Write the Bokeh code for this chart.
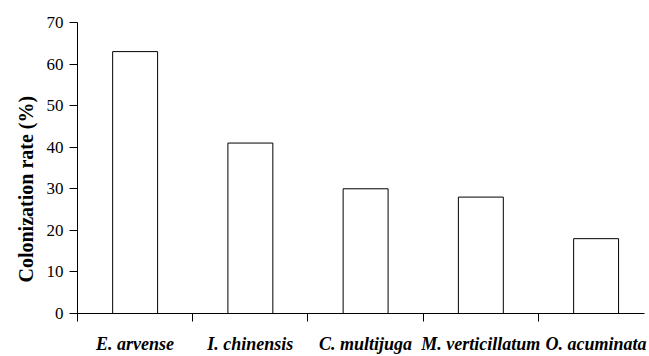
from bokeh.plotting import figure
from bokeh.models import Range1d, FixedTicker, ColumnDataSource, Title
from bokeh.embed import file_html
from bokeh.resources import INLINE

species = ["E. arvense", "I. chinensis", "C. multijuga", "M. verticillatum", "O. acuminata"]
rates = [63, 41, 30, 28, 18]
y_ticks = [0, 10, 20, 30, 40, 50, 60, 70]

centers = [i + 0.5 for i in range(len(species))]
bounds = [float(i) for i in range(len(species))]

src = ColumnDataSource(dict(x=centers, top=rates, name=species))

p = figure(width=649, height=356, output_backend="svg", toolbar_location=None,
           x_range=Range1d(0, 4.92), y_range=Range1d(0, 70),
           min_border_left=77, min_border_right=5, min_border_top=22, min_border_bottom=42)
p.outline_line_color = None
p.xgrid.visible = False
p.ygrid.visible = False
p.background_fill_color = "white"
p.border_fill_color = "white"

p.vbar(x="x", top="top", bottom=0, width=0.39, source=src,
       fill_color="white", line_color="black", line_width=1)

FONT = "Liberation Serif"

xa = p.xaxis[0]
xa.ticker = FixedTicker(ticks=centers, minor_ticks=bounds)
xa.major_label_overrides = {c: s for c, s in zip(centers, species)}
xa.major_tick_out = 0
xa.major_tick_in = 0
xa.minor_tick_out = 8
xa.minor_tick_in = 0
xa.minor_tick_line_color = "black"
xa.axis_line_color = "black"
xa.major_label_text_font = FONT
xa.major_label_text_font_style = "bold italic"
xa.major_label_text_font_size = "18px"
xa.major_label_text_color = "black"
xa.major_label_standoff = 12

ya = p.yaxis[0]
ya.ticker = FixedTicker(ticks=y_ticks, minor_ticks=[])
ya.major_tick_out = 8
ya.major_tick_in = 0
ya.minor_tick_out = 0
ya.minor_tick_in = 0
ya.axis_line_color = "black"
ya.major_tick_line_color = "black"
ya.major_label_text_font = FONT
ya.major_label_text_font_size = "17px"
ya.major_label_text_color = "black"
ya.major_label_standoff = 6

t = Title(text="Colonization rate (%)", align="left", offset=31,
          text_font=FONT, text_font_style="bold", text_font_size="20px",
          text_color="black", standoff=14)
p.add_layout(t, "left")

open("out.html", "w").write(file_html(p, INLINE))
